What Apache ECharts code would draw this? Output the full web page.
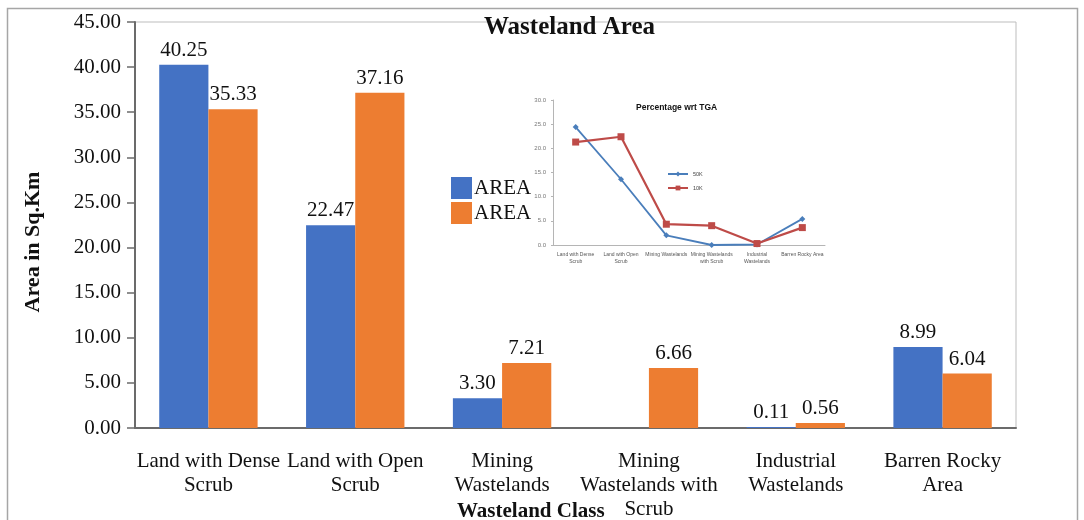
<!DOCTYPE html>
<html>
<head>
<meta charset="utf-8">
<script src="https://cdn.jsdelivr.net/npm/echarts@6/dist/echarts.min.js"></script>
<style>
html,body{margin:0;padding:0;background:#fff;}
#c{width:1084px;height:520px;}
</style>
</head>
<body>
<div id="c"></div>
<script>
// Main bar chart data
var categories = ['Land with Dense\nScrub', 'Land with Open\nScrub', 'Mining\nWastelands', 'Mining\nWastelands with\nScrub', 'Industrial\nWastelands', 'Barren Rocky\nArea'];
var area50K = [40.25, 22.47, 3.30, null, 0.11, 8.99];
var area10K = [35.33, 37.16, 7.21, 6.66, 0.56, 6.04];
var yTicks = [0, 5, 10, 15, 20, 25, 30, 35, 40, 45];

// Inset line chart data (Percentage wrt TGA)
var insetCategories = ['Land with Dense\nScrub', 'Land with Open\nScrub', 'Mining Wastelands', 'Mining Wastelands\nwith Scrub', 'Industrial\nWastelands', 'Barren Rocky Area'];
var pct50K = [24.4, 13.6, 2.0, 0.0, 0.1, 5.4];
var pct10K = [21.3, 22.4, 4.3, 4.0, 0.3, 3.6];

var serif = 'Liberation Serif';
var sans = 'Liberation Sans';

var chart = echarts.init(document.getElementById('c'), null, {renderer: 'canvas'});
var option = {
  backgroundColor: '#fff',
  animation: false,
  graphic: [{
    type: 'rect', silent: true, z: -1,
    shape: {x: 7.5, y: 8.5, width: 1070, height: 530},
    style: {fill: 'none', stroke: '#a6a6a6', lineWidth: 1.5}
  }, {
    type: 'text', silent: true,
    x: 33, y: 242, rotation: Math.PI / 2,
    style: {text: 'Area in Sq.Km', fontFamily: serif, fontWeight: 'bold', fontSize: 22,
      fill: '#111', align: 'center', verticalAlign: 'middle'}
  }],
  title: [{
    text: 'Wasteland Area', left: 479, top: 10,
    textStyle: {fontFamily: serif, fontWeight: 'bold', fontSize: 25, color: '#111'}
  }, {
    text: 'Wasteland Class', left: 452, top: 496,
    textStyle: {fontFamily: serif, fontWeight: 'bold', fontSize: 21, color: '#111'}
  }, {
    text: 'Percentage wrt TGA', left: 631, top: 98,
    textStyle: {fontFamily: sans, fontWeight: 'bold', fontSize: 8.5, color: '#111'}
  }],
  legend: [{
    data: ['AREA 50K', 'AREA 10K'],
    orient: 'vertical', left: 446, top: 172,
    itemWidth: 21, itemHeight: 22, itemGap: 3, icon: 'rect',
    formatter: function () { return 'AREA'; },
    textStyle: {fontFamily: serif, fontSize: 21, color: '#111', padding: [0, 0, 0, -3]}
  }, {
    data: ['50K', '10K'],
    orient: 'vertical', left: 662, top: 166,
    itemWidth: 20, itemHeight: 6, itemGap: 8,
    textStyle: {fontFamily: sans, fontSize: 5.5, color: '#444'}
  }],
  grid: [{
    left: 135, right: 68, top: 22, bottom: 92,
    outerBoundsMode: 'none', containLabel: false,
    show: true, borderColor: '#bdbdbd', borderWidth: 1
  }, {
    left: 553, top: 100, width: 272, height: 145,
    outerBoundsMode: 'none', containLabel: false
  }],
  xAxis: [{
    type: 'category', gridIndex: 0, data: categories,
    axisLine: {lineStyle: {color: '#6b6b6b', width: 2}},
    axisTick: {show: false},
    axisLabel: {fontFamily: serif, fontSize: 21, color: '#111', margin: 21, lineHeight: 24, interval: 0}
  }, {
    type: 'category', gridIndex: 1, data: insetCategories,
    axisLine: {lineStyle: {color: '#b5b5b5', width: 1}},
    axisTick: {show: false},
    axisLabel: {fontFamily: sans, fontSize: 5, color: '#555', margin: 6, lineHeight: 7, interval: 0}
  }],
  yAxis: [{
    type: 'value', gridIndex: 0, min: 0, max: 45, interval: 5,
    axisLine: {show: true, lineStyle: {color: '#6b6b6b', width: 2}},
    axisTick: {show: true, length: 8, lineStyle: {color: '#6b6b6b', width: 1.5}},
    splitLine: {show: false},
    axisLabel: {fontFamily: serif, fontSize: 21, color: '#111', margin: 14,
      formatter: function (v) { return yTicks.indexOf(v) >= 0 ? v.toFixed(2) : ''; }}
  }, {
    type: 'value', gridIndex: 1, min: 0, max: 30, interval: 5,
    axisLine: {show: true, lineStyle: {color: '#b5b5b5', width: 1}},
    axisTick: {show: true, length: 2, lineStyle: {color: '#b5b5b5'}},
    splitLine: {show: false},
    axisLabel: {fontFamily: sans, fontSize: 6, color: '#777', margin: 7,
      formatter: function (v) { return v.toFixed(1); }}
  }],
  series: [{
    name: 'AREA 50K', type: 'bar', xAxisIndex: 0, yAxisIndex: 0,
    data: area50K, barGap: '0%', barCategoryGap: '33%',
    itemStyle: {color: '#4472c4'},
    label: {show: true, position: 'top', distance: 4, fontFamily: serif, fontSize: 21, color: '#111',
      formatter: function (p) { return p.value == null ? '' : p.value.toFixed(2); }}
  }, {
    name: 'AREA 10K', type: 'bar', xAxisIndex: 0, yAxisIndex: 0,
    data: area10K, barGap: '0%', barCategoryGap: '33%',
    itemStyle: {color: '#ed7d31'},
    label: {show: true, position: 'top', distance: 4, fontFamily: serif, fontSize: 21, color: '#111',
      formatter: function (p) { return p.value.toFixed(2); }}
  }, {
    name: '50K', type: 'line', xAxisIndex: 1, yAxisIndex: 1,
    data: pct50K, symbol: 'diamond', symbolSize: 6,
    lineStyle: {color: '#4a7ebb', width: 1.8},
    itemStyle: {color: '#4a7ebb'}
  }, {
    name: '10K', type: 'line', xAxisIndex: 1, yAxisIndex: 1,
    data: pct10K, symbol: 'rect', symbolSize: 7,
    lineStyle: {color: '#be4b48', width: 2.2},
    itemStyle: {color: '#be4b48'}
  }]
};
chart.setOption(option);
</script>
</body>
</html>
